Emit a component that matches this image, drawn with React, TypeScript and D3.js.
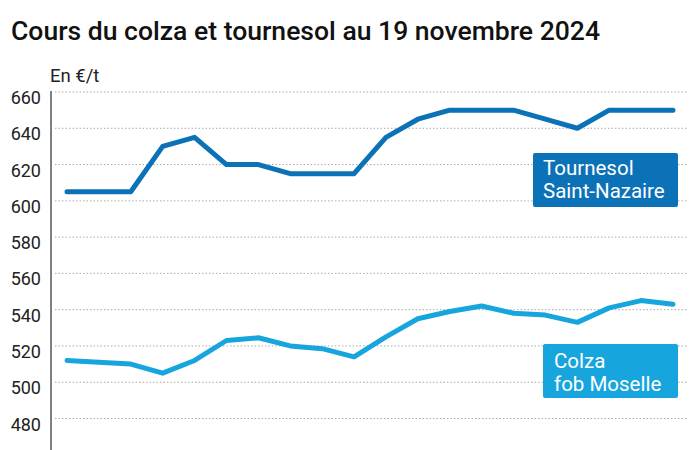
import * as d3 from "d3";
import React from "react";

const W = 700;
const H = 450;

const yTicks = [480, 500, 520, 540, 560, 580, 600, 620, 640, 660];
const steps = d3.range(20);
const tournesol = [605, 605, 605, 630, 635, 620, 620, 615, 615, 615, 635, 645, 650, 650, 650, 645, 640, 650, 650, 650];
const colza = [512, 511, 510, 505, 512, 523, 524.5, 520, 518.5, 514, 525, 535, 539, 542, 538, 537, 533, 541, 545, 543];

const DARK = "#0c72b8";
const LIGHT = "#17a5de";
const FONT = "Roboto, 'Noto Sans', sans-serif";

const App = () => {
  const x = d3.scaleLinear().domain([0, 19]).range([67, 673]);
  const y = d3.scaleLinear().domain([480, 660]).range([418.5, 92]);
  const line = d3
    .line<number>()
    .x((_, i) => x(steps[i]))
    .y((d) => y(d));

  return (
    <svg width={W} height={H} style={{ display: "block", position: "absolute", left: 0, top: 0 }} fontFamily={FONT}>
      <rect width={W} height={H} fill="#fff" />
      <text x={11} y={40} fontSize={25} fontWeight={500} fill="#111" textLength={589} lengthAdjust="spacingAndGlyphs">
        Cours du colza et tournesol au 19 novembre 2024
      </text>
      <text x={50} y={81.5} fontSize={18.5} fill="#222">
        En €/t
      </text>

      {/* grid + tick labels */}
      {yTicks.map((t) => (
        <g key={t}>
          <line x1={55} x2={687} y1={y(t)} y2={y(t)} stroke="#aaa" strokeWidth={1} strokeDasharray="1.5 2" />
          <text x={41} y={y(t) + 12} fontSize={18} textAnchor="end" fill="#222">
            {t}
          </text>
        </g>
      ))}
      <line x1={51} x2={51} y1={y(660) - 1} y2={H} stroke="#555" strokeWidth={1.5} />

      {/* lines */}
      <path d={line(tournesol) ?? ""} fill="none" stroke={DARK} strokeWidth={5} strokeLinejoin="round" strokeLinecap="round" />
      <path d={line(colza) ?? ""} fill="none" stroke={LIGHT} strokeWidth={5} strokeLinejoin="round" strokeLinecap="round" />

      {/* labels */}
      <rect x={533} y={153} width={145} height={54} rx={2} fill={DARK} />
      <text x={543} y={175} fontSize={20.5} fill="#fff">Tournesol</text>
      <text x={543} y={198} fontSize={20.5} fill="#fff">Saint-Nazaire</text>

      <rect x={543} y={344} width={135} height={54} rx={2} fill={LIGHT} />
      <text x={554} y={368} fontSize={20.5} fill="#fff">Colza</text>
      <text x={554} y={391} fontSize={20.5} fill="#fff">fob Moselle</text>
    </svg>
  );
};

export default App;
